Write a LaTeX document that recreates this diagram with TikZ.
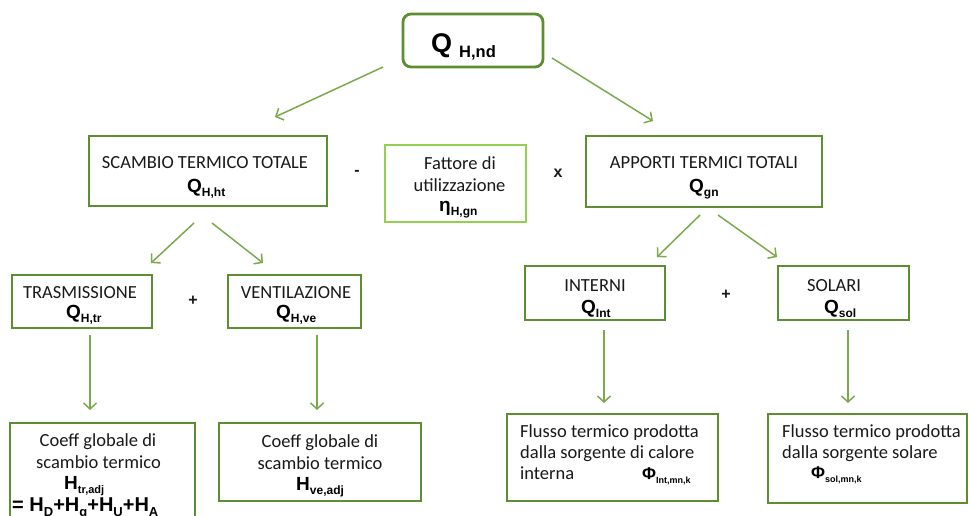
\documentclass[tikz,border=0pt]{standalone}
\usepackage{fontspec}
\setmainfont{Carlito}
\newfontfamily\formfont{Liberation Sans}
\usetikzlibrary{arrows.meta}

\definecolor{boxgreen}{HTML}{5E8E32}
\definecolor{linegreen}{HTML}{7AAA4C}
\definecolor{lightgreen}{HTML}{92D050}

% bold symbol with a lowered subscript: \symb[subsize]{main}{sub}
\newcommand{\symb}[3][12]{{\formfont\bfseries #2\raisebox{-0.26em}{\fontsize{#1}{#1}\selectfont #3}}}

\tikzset{
  x=1pt, y=-1pt,
  box/.style={draw=boxgreen, line width=2.8pt, inner sep=0pt, fill=white},
  lightbox/.style={draw=lightgreen, line width=2.8pt, inner sep=0pt, fill=white},
  txt/.style={font=\fontsize{18.5}{21}\selectfont, inner sep=0pt, anchor=base, text=black!90},
  ltxt/.style={txt, anchor=base west},
  sym/.style={font=\fontsize{19}{19}\selectfont, inner sep=0pt, anchor=base west, text=black},
  op/.style={font=\formfont\bfseries\fontsize{16}{16}\selectfont, inner sep=0pt, text=black!90},
  conn/.style={draw=linegreen, line width=1.5pt, -{Straight Barb[length=6pt, width=13pt, line width=1.5pt]}},
}

\begin{document}
\begin{tikzpicture}
\useasboundingbox (0,0) rectangle (969,516);
\clip (0,0) rectangle (969,516);

% boxes
\node[box, rounded corners=8pt, minimum width=140, minimum height=53] (qnd) at (473,40.5) {};
\node[box, minimum width=238, minimum height=70] (scambio) at (208,171) {};
\node[lightbox, minimum width=141, minimum height=77] (fattore) at (455.5,183.5) {};
\node[box, minimum width=236, minimum height=71] (apporti) at (704,171.5) {};
\node[box, minimum width=140, minimum height=53] (trasm) at (82,301.5) {};
\node[box, minimum width=133, minimum height=53] (ventil) at (294.5,301.5) {};
\node[box, minimum width=140, minimum height=54] (interni) at (595,293) {};
\node[box, minimum width=131, minimum height=54] (solari) at (843.5,293) {};
\node[box, minimum width=185, minimum height=110] (coeffa) at (102.5,478) {};
\node[box, minimum width=202, minimum height=78] (coeffb) at (320,462) {};
\node[box, minimum width=211, minimum height=87] (flussoa) at (612.5,457.5) {};
\node[box, minimum width=199, minimum height=89] (flussob) at (867.5,458.5) {};

% top quantity
\node[sym, font=\fontsize{27}{27}\selectfont] (qndtxt) at (431,53)
  {\formfont\bfseries Q\hspace{7pt}\raisebox{-5pt}{\fontsize{16.5}{16.5}\selectfont H,nd}};

% second row
\node[txt] (scambiol) at (205,168) {SCAMBIO TERMICO TOTALE};
\node[sym] (qht) at (187,192) {\symb{Q}{H,ht}};
\node[txt] (fattl1) at (460,169) {Fattore di};
\node[txt] (fattl2) at (459.5,191) {utilizzazione};
\node[sym] (eta) at (439,211) {\symb{η}{H,gn}};
\node[txt] (apportil) at (704,168) {APPORTI TERMICI TOTALI};
\node[sym] (qgn) at (689,192) {\symb{Q}{gn}};
\node[op] (minus) at (357,173) {-};
\node[op] (times) at (558,173) {x};

% third row
\node[txt] (trasml) at (80,298) {TRASMISSIONE};
\node[sym] (qtr) at (66,318) {\symb{Q}{H,tr}};
\node[txt] (ventill) at (296,298) {VENTILAZIONE};
\node[sym] (qve) at (276,318) {\symb{Q}{H,ve}};
\node[op] (plusa) at (193,301) {+};
\node[txt] (internil) at (595,291) {INTERNI};
\node[sym] (qint) at (581,313) {\symb{Q}{Int}};
\node[txt] (solaril) at (834,291) {SOLARI};
\node[sym] (qsol) at (824,313) {\symb{Q}{sol}};
\node[op] (plusb) at (726,295) {+};

% bottom row
\node[txt] (ca1) at (98,446) {Coeff globale di};
\node[txt] (ca2) at (98.5,468) {scambio termico};
\node[sym] (htr) at (64,489) {\symb[11]{H}{tr,adj}};
\node[sym, font=\fontsize{20}{20}\selectfont] (hsum) at (12,511)
  {{\formfont\bfseries = \symb[13]{H}{D}+\symb[13]{H}{g}+\symb[13]{H}{U}+\symb[13]{H}{A}}};
\node[txt] (cb1) at (320,447) {Coeff globale di};
\node[txt] (cb2) at (320,469) {scambio termico};
\node[sym] (hve) at (296,490) {\symb{H}{ve,adj}};
\node[ltxt] (fa1) at (520,437) {Flusso termico prodotta};
\node[ltxt] (fa2) at (520,458) {dalla sorgente di calore};
\node[ltxt] (fa3) at (520,479) {interna};
\node[sym, font=\fontsize{17}{17}\selectfont] (phiint) at (642,479) {\symb[9]{Φ}{Int,mn,k}};
\node[ltxt] (fb1) at (782,437) {Flusso termico prodotta};
\node[ltxt] (fb2) at (782,458) {dalla sorgente solare};
\node[sym, font=\fontsize{17}{17}\selectfont] (phisol) at (811,478) {\symb[9]{Φ}{sol,mn,k}};

% connector end points
\coordinate (a1s) at (383,67);   \coordinate (a1e) at (275,117);
\coordinate (a2s) at (552,58);   \coordinate (a2e) at (653,121);
\coordinate (a3s) at (194,223);  \coordinate (a3e) at (151,263);
\coordinate (a4s) at (212,223);  \coordinate (a4e) at (263,263);
\coordinate (a5s) at (700,215);  \coordinate (a5e) at (657,257);
\coordinate (a6s) at (718,215);  \coordinate (a6e) at (777,257);
\coordinate (v1s) at (90,335);   \coordinate (v1e) at (90,410);
\coordinate (v2s) at (317,335);  \coordinate (v2e) at (317,410);
\coordinate (v3s) at (604,330);  \coordinate (v3e) at (604,403);
\coordinate (v4s) at (848,330);  \coordinate (v4e) at (848,403);

% connectors
\draw[conn] (a1s) -- (a1e);
\draw[conn] (a2s) -- (a2e);
\draw[conn] (a3s) -- (a3e);
\draw[conn] (a4s) -- (a4e);
\draw[conn] (a5s) -- (a5e);
\draw[conn] (a6s) -- (a6e);
\draw[conn] (v1s) -- (v1e);
\draw[conn] (v2s) -- (v2e);
\draw[conn] (v3s) -- (v3e);
\draw[conn] (v4s) -- (v4e);
\end{tikzpicture}
\end{document}
